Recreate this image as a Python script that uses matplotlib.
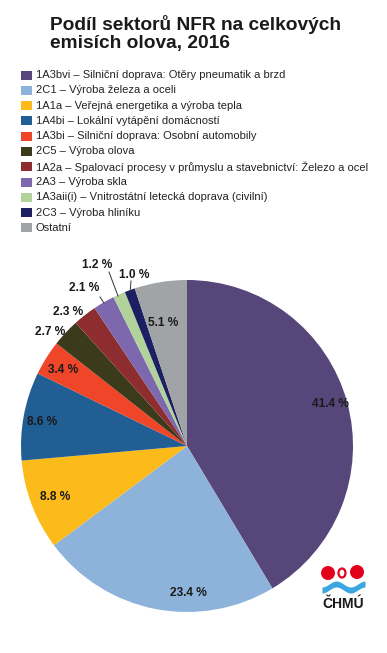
import matplotlib
matplotlib.use("Agg")
import matplotlib.pyplot as plt
from matplotlib.patches import Rectangle, Ellipse
import numpy as np

plt.rcParams['font.family'] = ['Liberation Sans', 'DejaVu Sans']

title = "Podíl sektorů NFR na celkových\nemisích olova, 2016"
categories = [
    "1A3bvi – Silniční doprava: Otěry pneumatik a brzd",
    "2C1 – Výroba železa a oceli",
    "1A1a – Veřejná energetika a výroba tepla",
    "1A4bi – Lokální vytápění domácností",
    "1A3bi – Silniční doprava: Osobní automobily",
    "2C5 – Výroba olova",
    "1A2a – Spalovací procesy v průmyslu a stavebnictví: Železo a ocel",
    "2A3 – Výroba skla",
    "1A3aii(i) – Vnitrostátní letecká doprava (civilní)",
    "2C3 – Výroba hliníku",
    "Ostatní",
]
values = [41.4, 23.4, 8.8, 8.6, 3.4, 2.7, 2.3, 2.1, 1.2, 1.0, 5.1]
colors = ["#56467A", "#8EB3DA", "#FDBA1B", "#215E93", "#EF4529", "#3B3A1B",
          "#8E2D2F", "#7D68AE", "#B1D39B", "#1C1F62", "#A1A4A6"]

W, H = 387, 653
fig = plt.figure(figsize=(W / 100, H / 100), dpi=100)

def fx(px):
    return px / W

def fy(py):
    return 1 - py / H

# Title
fig.text(fx(50), fy(15), title, ha='left', va='top', fontsize=13.8,
         fontweight='bold', color='#1a1a1a', linespacing=1.08)

# Legend
leg_y0, leg_dy = 75, 15.3
for i, (lab, col) in enumerate(zip(categories, colors)):
    yc = leg_y0 + i * leg_dy
    fig.patches.append(Rectangle((fx(21), fy(yc + 4.5)), fx(11), 9 / H,
                                 transform=fig.transFigure, facecolor=col,
                                 edgecolor='none'))
    fig.text(fx(36), fy(yc), lab, ha='left', va='center', fontsize=8.05,
             color='#222222')

# Pie
cx, cy, R = 187, 446, 166
ax = fig.add_axes([fx(cx - R), (H - cy - R) / H, 2 * R / W, 2 * R / H])
wedges, _ = ax.pie(values, colors=colors, startangle=90, counterclock=False,
                   radius=1, wedgeprops=dict(linewidth=0))
ax.set_xlim(-1, 1)
ax.set_ylim(-1, 1)
ax.set_aspect('equal')
ax.axis('off')

# label placement (pixel coords in figure), leader lines where needed
label_px = [(330, 404), (188, 593), (55, 497), (42, 422), (63, 370),
            (50, 332), (68, 312), (84, 288), (97, 265), (134, 275), (163, 323)]
leaders = {7: ((100, 297), (104, 303)),
           8: ((109, 272), (118, 296)),
           9: ((131, 281), (130, 293))}

def to_data(p):
    return ((p[0] - cx) / R, -(p[1] - cy) / R)

for i, v in enumerate(values):
    x, y = to_data(label_px[i])
    ax.text(x, y, f"{v:.1f} %", ha='center', va='center', fontsize=8.6,
            fontweight='bold', color='#1a1a1a', clip_on=False)
    if i in leaders:
        a, b = leaders[i]
        (x1, y1), (x2, y2) = to_data(a), to_data(b)
        ax.plot([x1, x2], [y1, y2], color='#333333', lw=0.7, clip_on=False)

# ČHMÚ logo
red = "#E3001B"
blue = "#3AA7E0"
fig.patches.append(Ellipse((fx(328), fy(573)), 14 / W, 14 / H, transform=fig.transFigure,
                           facecolor=red, edgecolor='none'))
fig.patches.append(Ellipse((fx(342), fy(573)), 7 / W, 9 / H, transform=fig.transFigure,
                           facecolor='white', edgecolor=red, linewidth=1.6))
fig.patches.append(Ellipse((fx(357), fy(572)), 14 / W, 14 / H, transform=fig.transFigure,
                           facecolor=red, edgecolor='none'))
xs = np.linspace(322, 365, 60)
ys1 = 587 + 3 * np.cos((xs - 322) / 43 * 2 * np.pi * 1.5)
ax_logo = fig.add_axes([0, 0, 1, 1], facecolor='none')
ax_logo.set_xlim(0, W)
ax_logo.set_ylim(H, 0)
ax_logo.axis('off')
ax_logo.fill_between(xs, ys1 - 3, ys1 + 3, color=blue, lw=0)
fig.text(fx(343), fy(604), "ČHMÚ", ha='center', va='center', fontsize=10,
         fontweight='bold', color='#1a1a1a')

fig.savefig("out.png", dpi=100, facecolor='white')
